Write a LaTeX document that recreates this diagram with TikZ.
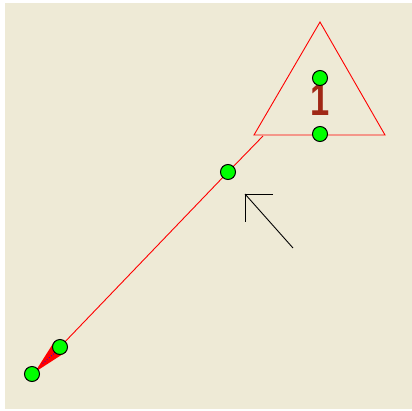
\documentclass[tikz,border=0pt]{standalone}
\usepackage{fontspec}
\newfontfamily\digitfont{Liberation Sans Bold}
\usetikzlibrary{positioning}
\definecolor{paper}{RGB}{238,234,214}
\definecolor{knobgreen}{RGB}{0,255,0}
\definecolor{digitred}{RGB}{160,40,22}
\begin{document}
\begin{tikzpicture}[x=1pt,y=-1pt,knob/.style={circle,draw=black,fill=knobgreen,minimum size=15pt,inner sep=0pt,line width=1pt},redline/.style={draw=red,line width=0.9pt}]
\useasboundingbox (0,0) rectangle (412,410);
\fill[white] (0,0) rectangle (412,410);
\fill[paper] (5,3) rectangle (412,409);
% triangle marker
\coordinate (apex) at (320,22); \coordinate (baseL) at (254,135); \coordinate (baseR) at (385,135);
\draw[redline] (apex) -- (baseR) -- (baseL) -- cycle;
\node[text=digitred,font=\digitfont\fontsize{46}{46}\selectfont,inner sep=0pt,transform shape,xscale=0.75] (digit) at (320,100) {1};
% leader line
\coordinate (lineTop) at (263,136);
\coordinate (wedgeA) at (54,342); \coordinate (wedgeB) at (66,352); \coordinate (wedgeTip) at (35,372);
\draw[redline] (lineTop) -- (228,172) -- (60,347);
\fill[red] (wedgeA) -- (wedgeB) -- (wedgeTip) -- cycle;
\draw[blue,dotted,line width=0.8pt] (58,350) -- (42,364);
% handles
\node[knob] (k1) at (320,78) {};
\node[knob] (k2) at (320,134) {};
\node[knob] (k3) at (228,172) {};
\node[knob] (k4) at (60,347) {};
\node[knob] (k5) at (32,374) {};
% pointer
\coordinate (tail) at (293,248); \coordinate (tip) at (245,194);
\coordinate (barH) at (273,194); \coordinate (barV) at (245,222);
\draw[line width=0.9pt] (tail) -- (tip);
\draw[line width=0.9pt] (barH) -- (tip) -- (barV);
\end{tikzpicture}
\end{document}
